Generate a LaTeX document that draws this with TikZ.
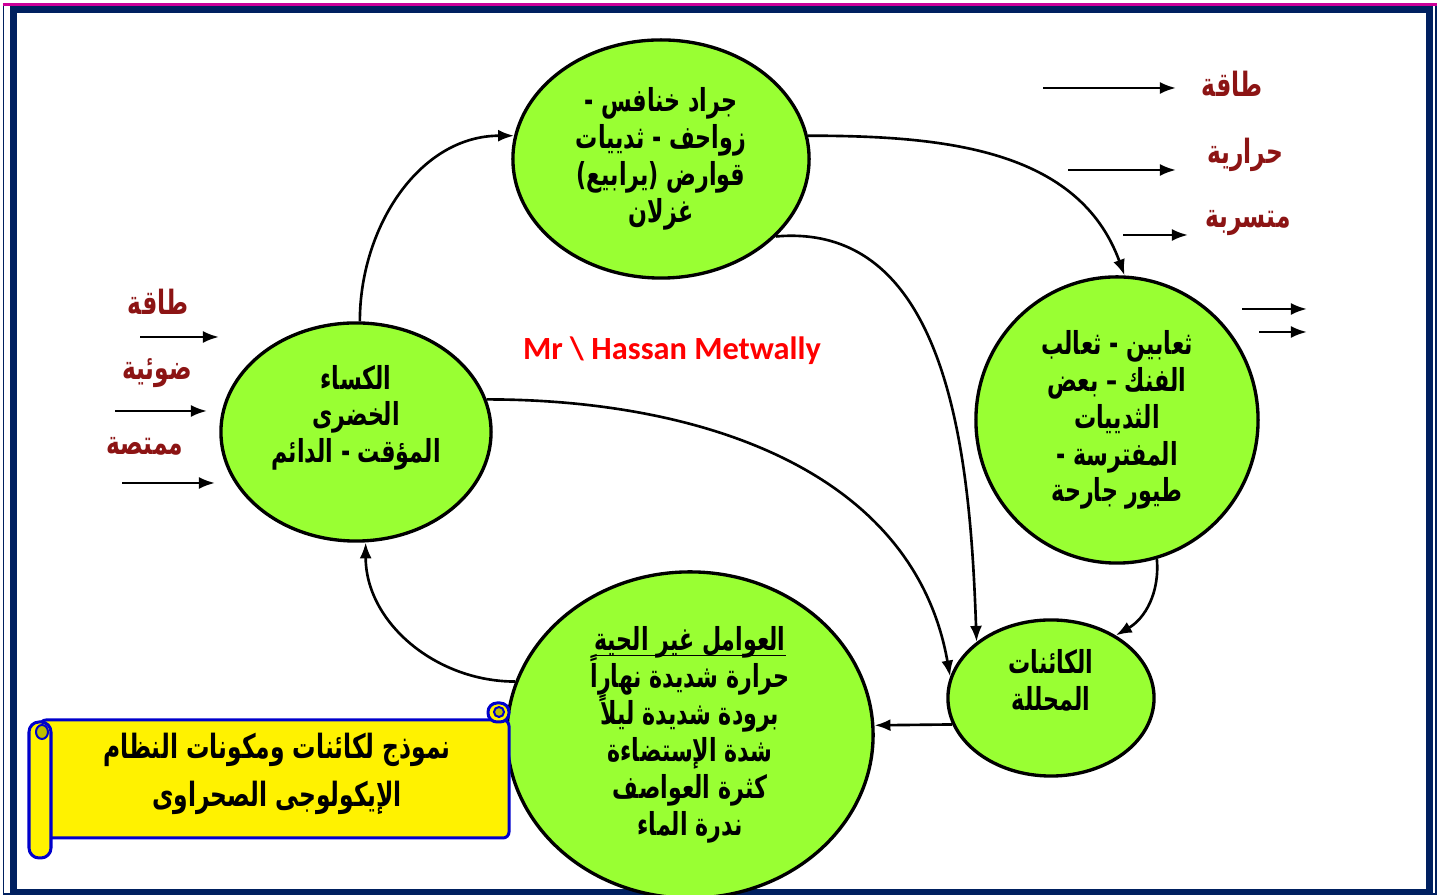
\documentclass[tikz,border=0pt]{standalone}
\usepackage{fontspec}
\usetikzlibrary{shapes.geometric,arrows.meta}
\TeXXeTstate=1
\newfontfamily\arabicfont[Script=Arabic, FakeStretch=0.7]{DejaVu Sans}
\newfontfamily\latinfont{Carlito}
\newcommand{\ar}[1]{\beginR #1\endR}
\newcommand{\arline}[1]{\underline{\smash{\ar{#1}}}\vphantom{\ar{#1}}}
\AtBeginDocument{\lineskiplimit=-20pt\relax}

\definecolor{leafgreen}{RGB}{153,255,51}
\definecolor{framenavy}{RGB}{0,32,96}
\definecolor{framepink}{RGB}{204,0,153}
\definecolor{labelred}{RGB}{140,20,20}
\definecolor{scrollblue}{RGB}{0,0,204}
\definecolor{scrollolive}{RGB}{190,190,0}

\tikzset{
  eco/.style={ellipse, draw, fill=leafgreen, line width=0.95pt, align=center, inner sep=0pt,
    font=\arabicfont\bfseries\fontsize{9}{10.5}\selectfont},
  flow/.style={->, line width=0.75pt},
  energy/.style={text=labelred, font=\arabicfont\bfseries\fontsize{9.5}{11}\selectfont},
  scroll/.style={draw=scrollblue, line width=0.03cm, fill=yellow},
}

\begin{document}
\begin{tikzpicture}[x=0.01cm, y=-0.01cm, >={Latex[length=0.16cm,width=0.12cm]}]
\useasboundingbox (0,0) rectangle (1444,895);

% frame
\draw[framenavy, line width=0.015cm] (3.5,3.5) rectangle (1436,894);
\draw[framenavy, line width=0.07cm] (13.5,9.5) rectangle (1429.5,893);
\draw[framepink, line width=0.025cm] (3,4.5) -- (1437,4.5);

% the five groups
\node[eco, minimum width=2.96cm, minimum height=2.38cm] (herb) at (661,159)
  {\ar{جراد خنافس -}\\\ar{زواحف - ثدييات}\\\ar{قوارض (يرابيع)}\\\ar{غزلان}};
\node[eco, minimum width=2.70cm, minimum height=2.18cm, text depth=0.36cm] (veg) at (356,432)
  {\ar{الكساء}\\\ar{الخضرى}\\\ar{المؤقت - الدائم}};
\node[eco, minimum width=2.82cm, minimum height=2.86cm] (carn) at (1117,420)
  {\ar{ثعابين - ثعالب}\\\ar{الفنك – بعض}\\\ar{الثدييات}\\\ar{المفترسة -}\\\ar{طيور جارحة}};
\node[eco, minimum width=2.06cm, minimum height=1.56cm, text depth=0.36cm] (dec) at (1051,698)
  {\ar{الكائنات}\\\ar{المحللة}};
\node[eco, minimum width=3.66cm, minimum height=3.26cm] (abio) at (690,735)
  {\arline{العوامل غير الحية}\\\ar{حرارة شديدة نهاراً}\\\ar{برودة شديدة ليلاً}\\\ar{شدة الإستضاءة}\\\ar{كثرة العواصف}\\\ar{ندرة الماء}};

\node[text=red, font=\latinfont\bfseries\fontsize{9.2}{11}\selectfont] (author) at (672,351)
  {Mr \textbackslash\ Hassan Metwally};

% links
\draw[flow] (veg.88) to[out=90, in=180] (herb.171);
\draw[flow] (herb.9) to[out=0, in=110] (carn.87);
\draw[flow] (herb.-34) to[out=5, in=92] (dec.143);
\draw[flow] (veg.14) to[out=0, in=100] (dec.168);
\draw[flow] (carn.-74) to[out=-85, in=30] (dec.44);
\draw[flow] (dec.195) -- (abio.3);
\draw[flow] (abio.163) to[out=180, in=-90] (veg.-85);

% energy in and out
\node[energy] (inA) at (158,302) {\ar{طاقة}};
\node[energy] (inB) at (157,373) {\ar{ضوئية}};
\node[energy] (inC) at (145,446) {\ar{ممتصة}};
\node[energy] (outA) at (1232,84) {\ar{طاقة}};
\node[energy] (outB) at (1245,155) {\ar{حرارية}};
\node[energy] (outC) at (1248,223) {\ar{متسربة}};
\foreach \n/\xa/\xb/\y in {la/140/219/337, lb/115/207/411, lc/122/215/483,
  ra/1043/1176/88, rb/1068/1176/170, rc/1123/1188/235, rd/1242/1307/309, re/1259/1307/332}
{
  \coordinate (\n s) at (\xa,\y);
  \coordinate (\n e) at (\xb,\y);
  \draw[flow] (\n s) -- (\n e);
}

% scroll
\draw[scroll, rounded corners=0.06cm] (40,720) rectangle (509,838);
\draw[scroll, rounded corners=0.09cm] (488,703) rectangle (509,722);
\draw[draw=scrollblue, line width=0.02cm, fill=scrollolive] (499,712) circle[radius=0.05cm];
\draw[scroll, rounded corners=0.1cm] (29,722) rectangle (51,858);
\draw[draw=scrollblue, line width=0.02cm, fill=scrollolive] (42,732) ellipse[x radius=0.06cm, y radius=0.07cm];
\node[align=center, font=\arabicfont\bfseries\fontsize{9.5}{13.6}\selectfont] (title) at (277,774)
  {\ar{نموذج لكائنات ومكونات النظام}\\\ar{الإيكولوجى الصحراوى}};
\end{tikzpicture}
\end{document}
